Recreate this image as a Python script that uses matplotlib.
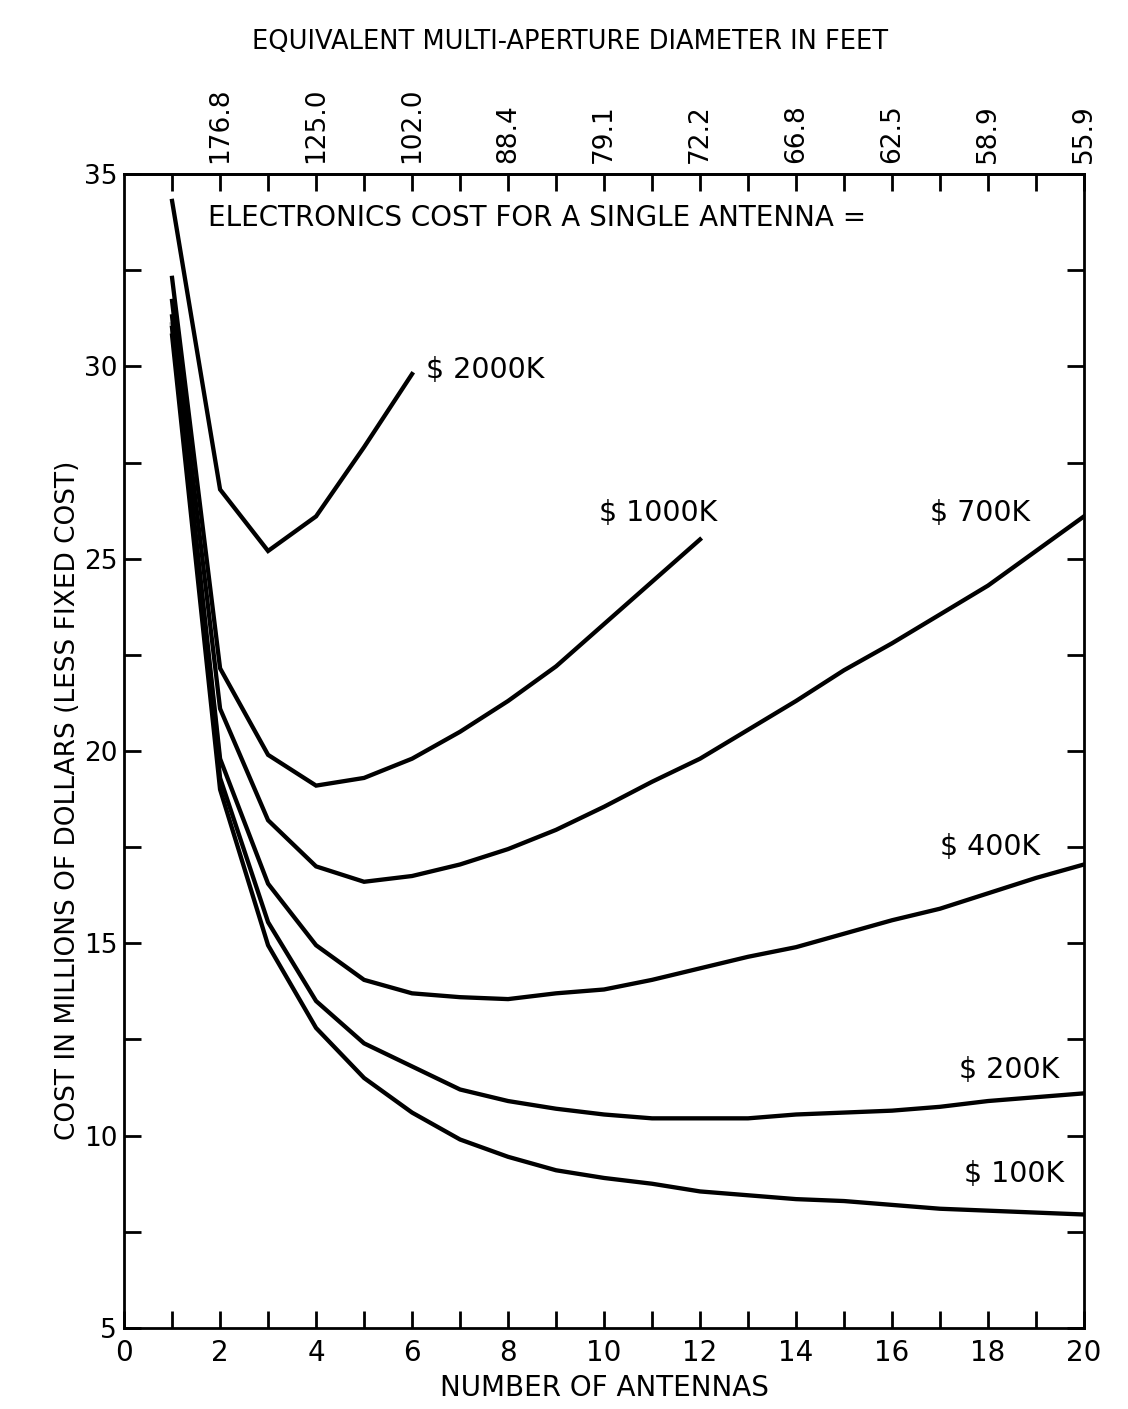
import numpy as np
import matplotlib.pyplot as plt

# number of antennas
n_ant = list(range(1, 21))

# cost in millions of dollars (less fixed cost)
cost_2000k = [34.3, 26.8, 25.2, 26.1, 27.9, 29.8]
cost_1000k = [32.3, 22.15, 19.9, 19.1, 19.3, 19.8, 20.5, 21.3, 22.2, 23.3, 24.4, 25.5]
cost_700k = [31.7, 21.1, 18.2, 17.0, 16.6, 16.75, 17.05, 17.45, 17.95, 18.55,
             19.2, 19.8, 20.55, 21.3, 22.1, 22.8, 23.55, 24.3, 25.2, 26.1]
cost_400k = [31.3, 19.8, 16.55, 14.95, 14.05, 13.7, 13.6, 13.55, 13.7, 13.8,
             14.05, 14.35, 14.65, 14.9, 15.25, 15.6, 15.9, 16.3, 16.7, 17.05]
cost_200k = [31.0, 19.3, 15.55, 13.5, 12.4, 11.8, 11.2, 10.9, 10.7, 10.55,
             10.45, 10.45, 10.45, 10.55, 10.6, 10.65, 10.75, 10.9, 11.0, 11.1]
cost_100k = [30.8, 19.0, 14.95, 12.8, 11.5, 10.6, 9.9, 9.45, 9.1, 8.9,
             8.75, 8.55, 8.45, 8.35, 8.3, 8.2, 8.1, 8.05, 8.0, 7.95]

curve_labels = ['$ 2000K', '$ 1000K', '$ 700K', '$ 400K', '$ 200K', '$ 100K']

# top axis: equivalent multi-aperture diameter in feet
diam_pos = [2, 4, 6, 8, 10, 12, 14, 16, 18, 20]
diam_labels = ['176.8', '125.0', '102.0', '88.4', '79.1', '72.2',
               '66.8', '62.5', '58.9', '55.9']

plt.rcParams['font.family'] = ['DejaVu Sans']

fig = plt.figure(figsize=(11.28, 14.09), dpi=100)
ax = fig.add_axes([0.110, 0.0575, 0.851, 0.819])

# grey smear of the original print along the steep part
ax.plot(n_ant[:2], [(a + b) / 2 for a, b in zip(cost_400k[:2], cost_200k[:2])],
        color='#b0b0b0', lw=4, solid_capstyle='butt', zorder=1)

lw = 3.1
series = [cost_2000k, cost_1000k, cost_700k, cost_400k, cost_200k, cost_100k]
for ys in series:
    ax.plot(n_ant[:len(ys)], ys, color='black', lw=lw,
            solid_joinstyle='miter', zorder=3)

# curve labels
label_xy = [(6.3, 29.9), (9.9, 26.2), (16.8, 26.2), (17.0, 17.5), (17.4, 11.7), (17.5, 9.0)]
for txt, (lx, ly) in zip(curve_labels, label_xy):
    ax.text(lx, ly, txt, fontsize=20.5, ha='left', va='center')

ax.text(1.75, 33.85, 'ELECTRONICS COST FOR A SINGLE ANTENNA =', fontsize=20,
        ha='left', va='center')

ax.set_xlim(0, 20)
ax.set_ylim(5, 35)

ax.set_xticks(range(0, 21, 2))
ax.set_xticks(range(1, 20, 2), minor=True)
ax.set_yticks(range(5, 36, 5))
ax.set_yticks(np.arange(7.5, 35, 5), minor=True)

for s in ax.spines.values():
    s.set_linewidth(2.0)

ax.tick_params(which='both', direction='in', length=12.5, width=2.0,
               right=True, top=False)
ax.tick_params(axis='x', labelsize=20, pad=8)
ax.tick_params(axis='y', labelsize=19, pad=5)

top = ax.secondary_xaxis('top')
top.set_xticks(diam_pos, labels=diam_labels, rotation=90)
top.set_xticks(range(1, 20, 2), minor=True)
top.tick_params(which='both', direction='in', length=12.5, width=2.0,
                labelsize=19, pad=8)
top.spines['top'].set_linewidth(2.0)

ax.set_xlabel('NUMBER OF ANTENNAS', fontsize=20, labelpad=5)
fig.text(0.060, 0.432, 'COST IN MILLIONS OF DOLLARS (LESS FIXED COST)',
         rotation=90, fontsize=19, ha='center', va='center')
fig.text(0.505, 0.970, 'EQUIVALENT MULTI-APERTURE DIAMETER IN FEET',
         fontsize=18.5, ha='center', va='center')

fig.savefig('out.png', dpi=100, facecolor='white')
